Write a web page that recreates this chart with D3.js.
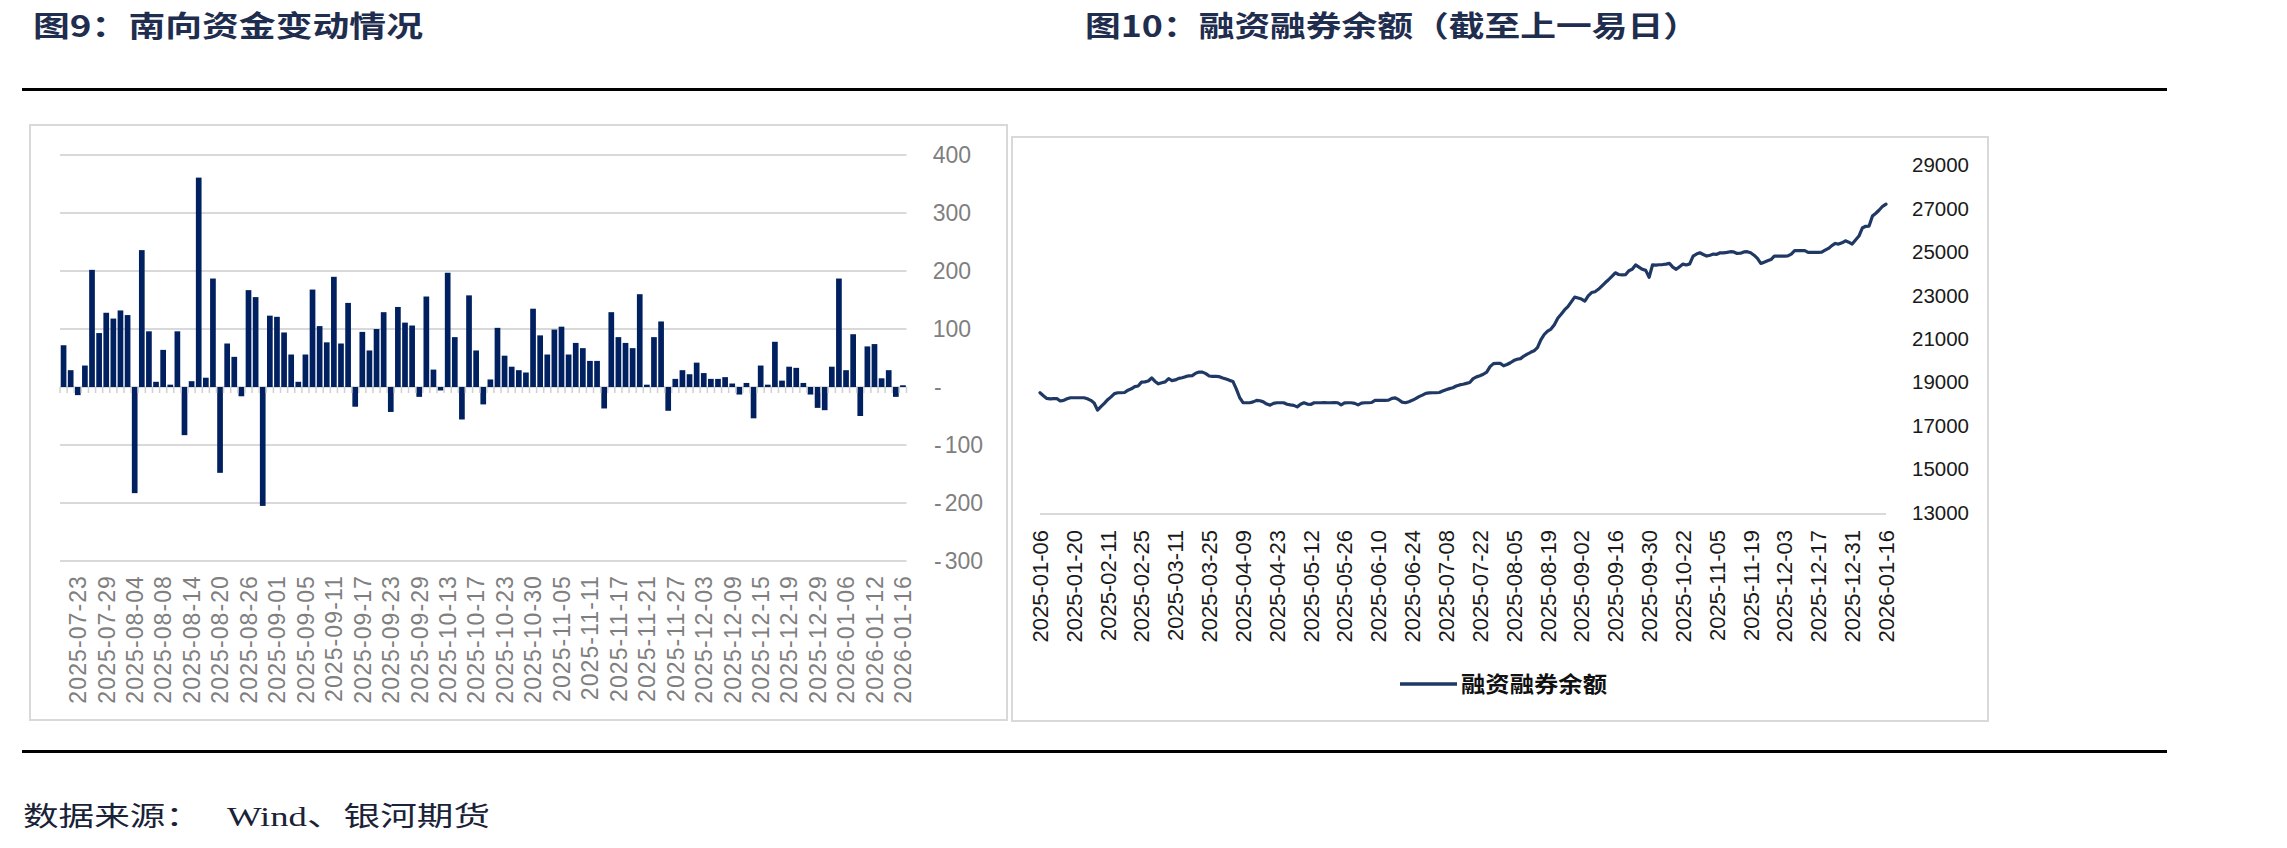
<!DOCTYPE html>
<html><head><meta charset="utf-8">
<script src="https://cdn.jsdelivr.net/npm/d3@7/dist/d3.min.js"></script>
<style>html,body{margin:0;padding:0;background:#fff;} svg{display:block}</style>
</head><body>
<svg id="c" width="2287" height="848"></svg>
<script>
// ---------- Data: 南向资金变动 (亿港元) ----------
const flowDates = [
"2025-07-21","2025-07-22","2025-07-23","2025-07-24","2025-07-25","2025-07-28","2025-07-29","2025-07-30","2025-07-31","2025-08-01",
"2025-08-04","2025-08-05","2025-08-06","2025-08-07","2025-08-08","2025-08-11","2025-08-12","2025-08-13","2025-08-14","2025-08-15",
"2025-08-18","2025-08-19","2025-08-20","2025-08-21","2025-08-22","2025-08-25","2025-08-26","2025-08-27","2025-08-28","2025-08-29",
"2025-09-01","2025-09-02","2025-09-03","2025-09-04","2025-09-05","2025-09-08","2025-09-09","2025-09-10","2025-09-11","2025-09-12",
"2025-09-15","2025-09-16","2025-09-17","2025-09-18","2025-09-19","2025-09-22","2025-09-23","2025-09-24","2025-09-25","2025-09-26",
"2025-09-29","2025-09-30","2025-10-09","2025-10-10","2025-10-13","2025-10-14","2025-10-15","2025-10-16","2025-10-17","2025-10-20",
"2025-10-21","2025-10-22","2025-10-23","2025-10-24","2025-10-27","2025-10-28","2025-10-30","2025-10-31","2025-11-03","2025-11-04",
"2025-11-05","2025-11-06","2025-11-07","2025-11-10","2025-11-11","2025-11-12","2025-11-13","2025-11-14","2025-11-17","2025-11-18",
"2025-11-19","2025-11-20","2025-11-21","2025-11-24","2025-11-25","2025-11-26","2025-11-27","2025-11-28","2025-12-01","2025-12-02",
"2025-12-03","2025-12-04","2025-12-05","2025-12-08","2025-12-09","2025-12-10","2025-12-11","2025-12-12","2025-12-15","2025-12-16",
"2025-12-17","2025-12-18","2025-12-19","2025-12-22","2025-12-23","2025-12-24","2025-12-29","2025-12-30","2026-01-02","2026-01-05",
"2026-01-06","2026-01-07","2026-01-08","2026-01-09","2026-01-12","2026-01-13","2026-01-14","2026-01-15","2026-01-16"];
const flowValues = [
72,29,-14,37,202,93,128,118,132,124,
-183,236,96,9,64,4,96,-83,10,361,
16,187,-148,75,52,-16,167,155,-205,123,
121,94,56,9,56,168,105,77,190,75,
145,-34,95,63,100,129,-43,138,111,106,
-17,156,30,-6,197,86,-56,158,63,-30,
13,102,54,35,29,25,135,89,56,99,
104,56,76,67,45,45,-37,129,86,76,
67,160,4,86,113,-41,14,29,22,42,
24,14,14,17,6,-13,7,-54,37,4,
78,11,35,33,7,-13,-36,-40,35,187,
29,91,-50,70,74,15,29,-17,3];
const flowYTicks = [400,300,200,100,0,-100,-200,-300];
const flowLabelEvery = 4, flowLabelStart = 2;

// ---------- Data: 融资融券余额 (亿元) ----------
const marginTickLabels = ["2025-01-06","2025-01-20","2025-02-11","2025-02-25","2025-03-11","2025-03-25","2025-04-09","2025-04-23",
"2025-05-12","2025-05-26","2025-06-10","2025-06-24","2025-07-08","2025-07-22","2025-08-05","2025-08-19","2025-09-02","2025-09-16",
"2025-09-30","2025-10-22","2025-11-05","2025-11-19","2025-12-03","2025-12-17","2025-12-31","2026-01-16"];
const marginLabelEvery = 10;
const marginValues = [
18520,18380,18260,18240,18250,18250,18140,18170,18240,18290,
18290,18290,18290,18290,18240,18170,18050,17720,17880,18030,
18200,18330,18480,18520,18520,18530,18640,18700,18800,18830,
19010,19020,19060,19200,19040,18930,18980,19020,19170,19080,
19110,19180,19210,19260,19300,19310,19420,19470,19470,19400,
19290,19270,19270,19260,19200,19150,19090,19040,18700,18300,
18060,18060,18060,18100,18170,18150,18100,18000,17950,18030,
18060,18060,18060,17990,17960,17940,17870,17990,18060,18000,
17980,18060,18060,18060,18070,18060,18060,18070,18060,17960,
18050,18060,18060,18030,17960,18040,18060,18060,18070,18170,
18170,18170,18170,18180,18260,18280,18200,18090,18060,18110,
18170,18250,18340,18410,18490,18510,18520,18520,18530,18600,
18660,18710,18750,18830,18880,18910,18950,18990,19170,19250,
19300,19370,19470,19720,19860,19870,19870,19760,19820,19900,
20000,20060,20090,20210,20300,20380,20450,20600,20950,21200,
21360,21450,21650,21950,22130,22330,22480,22700,22920,22880,
22830,22740,22980,23130,23170,23280,23430,23580,23720,23880,
24040,23960,23940,23950,24130,24200,24400,24300,24200,24150,
23830,24400,24390,24410,24420,24440,24470,24300,24200,24320,
24440,24400,24450,24810,24900,24960,24880,24810,24850,24900,
24890,24960,24960,24980,25010,25000,24930,24940,25000,25010,
24960,24850,24700,24470,24530,24590,24650,24810,24810,24810,
24810,24820,24900,25060,25060,25060,25060,24980,24980,24980,
24980,24990,25080,25160,25290,25390,25360,25420,25510,25450,
25360,25550,25730,26100,26180,26190,26650,26780,26930,27100,27200];
const marginYTicks = [29000,27000,25000,23000,21000,19000,17000,15000,13000];
const marginSeriesName = "融资融券余额";

const title1 = "图9：南向资金变动情况";
const title2 = "图10：融资融券余额（截至上一易日）";
const sourceLabel = "数据来源：";
const sourceText = "Wind、银河期货";

// ---------- Drawing ----------
const svg = d3.select("#c");
const CJK = "'Noto Sans CJK SC','Noto Sans CJK TC',sans-serif";
const SANS = "'Liberation Sans',Arial,sans-serif";
const navy = "#1f2d4e";

svg.append("rect").attr("width",2287).attr("height",848).attr("fill","#fff");

// titles
svg.append("text").attr("x",33).attr("y",37).text(title1)
  .attr("font-family",CJK).attr("font-weight","bold").attr("font-size",29)
  .attr("fill",navy).attr("textLength",390).attr("lengthAdjust","spacingAndGlyphs");
svg.append("text").attr("x",1085).attr("y",37).text(title2)
  .attr("font-family",CJK).attr("font-weight","bold").attr("font-size",29)
  .attr("fill",navy).attr("textLength",614).attr("lengthAdjust","spacingAndGlyphs");

// rules
svg.append("line").attr("x1",22).attr("x2",2167).attr("y1",89.5).attr("y2",89.5).attr("stroke","#000").attr("stroke-width",3);
svg.append("line").attr("x1",22).attr("x2",2167).attr("y1",751.5).attr("y2",751.5).attr("stroke","#000").attr("stroke-width",3);

// source
svg.append("text").attr("x",23).attr("y",826).text(sourceLabel)
  .attr("font-family","'Liberation Serif',"+CJK).attr("font-size",27).attr("fill","#1a2238")
  .attr("textLength",178).attr("lengthAdjust","spacingAndGlyphs");
svg.append("text").attr("x",227).attr("y",826).text(sourceText)
  .attr("font-family","'Liberation Serif',"+CJK).attr("font-size",27).attr("fill","#1a2238")
  .attr("textLength",263).attr("lengthAdjust","spacingAndGlyphs");

// frames
svg.append("rect").attr("x",30).attr("y",125).attr("width",977).attr("height",595)
  .attr("fill","none").attr("stroke","#d9d9d9").attr("stroke-width",2);
svg.append("rect").attr("x",1012).attr("y",137).attr("width",976).attr("height",584)
  .attr("fill","none").attr("stroke","#d9d9d9").attr("stroke-width",2);

// ===== Left chart: bars =====
const L = svg.append("g");
const xL = d3.scaleBand().domain(flowDates).range([60,906.5]).paddingInner(0.2).paddingOuter(0.1);
const yL = d3.scaleLinear().domain([-300,400]).range([561,155]);
const gray = "#7f7f7f";

L.selectAll("line.grid").data(flowYTicks).join("line")
  .attr("x1",60).attr("x2",906.5).attr("y1",d=>yL(d)).attr("y2",d=>yL(d))
  .attr("stroke","#d9d9d9").attr("stroke-width",2);

L.selectAll("rect.bar").data(flowValues).join("rect")
  .attr("x",(d,i)=>xL(flowDates[i])).attr("width",xL.bandwidth())
  .attr("y",d=>Math.min(yL(d),yL(0))).attr("height",d=>Math.abs(yL(d)-yL(0)))
  .attr("fill","#002060");

// category boundary ticks
const step = xL.step();
L.selectAll("line.tk").data(d3.range(flowDates.length+1)).join("line")
  .attr("x1",i=>60+i*step).attr("x2",i=>60+i*step)
  .attr("y1",yL(0)).attr("y2",yL(0)+6).attr("stroke","#d0d0d0").attr("stroke-width",1.5);

// y labels (accounting format)
flowYTicks.forEach(v=>{
  const y = yL(v);
  if (v>0) {
    L.append("text").attr("x",971).attr("y",y).attr("dy","0.35em").attr("text-anchor","end")
      .attr("font-family",SANS).attr("font-size",23).attr("fill",gray).text(d3.format("d")(v));
  } else if (v===0) {
    L.append("text").attr("x",934).attr("y",y).attr("dy","0.35em")
      .attr("font-family",SANS).attr("font-size",23).attr("fill",gray).text("-");
  } else {
    L.append("text").attr("x",934).attr("y",y).attr("dy","0.35em")
      .attr("font-family",SANS).attr("font-size",23).attr("fill",gray).text("-");
    L.append("text").attr("x",983).attr("y",y).attr("dy","0.35em").attr("text-anchor","end")
      .attr("font-family",SANS).attr("font-size",23).attr("fill",gray).text(d3.format("d")(-v));
  }
});

// x labels
const flowLabelIdx = d3.range(flowLabelStart, flowDates.length, flowLabelEvery);
L.selectAll("text.xl").data(flowLabelIdx).join("text")
  .attr("transform",i=>`translate(${xL(flowDates[i])+xL.bandwidth()/2},575) rotate(-90)`)
  .attr("text-anchor","end").attr("dy","0.36em")
  .attr("font-family",SANS).attr("font-size",23).attr("letter-spacing","1.1px")
  .attr("fill",gray).text(i=>flowDates[i]);

// ===== Right chart: line =====
const R = svg.append("g");
const xR = d3.scaleLinear().domain([0,marginValues.length-1]).range([1040,1886]);
const yR = d3.scaleLinear().domain([13000,29000]).range([512.7,165]);

R.append("line").attr("x1",1040).attr("x2",1886).attr("y1",514).attr("y2",514)
  .attr("stroke","#d9d9d9").attr("stroke-width",2);

R.append("path").datum(marginValues)
  .attr("d",d3.line().x((d,i)=>xR(i)).y(d=>yR(d)))
  .attr("fill","none").attr("stroke","#1f3864").attr("stroke-width",3.2)
  .attr("stroke-linejoin","round").attr("stroke-linecap","round");

R.selectAll("text.yl").data(marginYTicks).join("text")
  .attr("x",1912).attr("y",d=>yR(d)).attr("dy","0.35em")
  .attr("font-family",SANS).attr("font-size",20.5).attr("fill","#1a1a1a").text(d=>d3.format("d")(d));

R.selectAll("text.xl").data(marginTickLabels).join("text")
  .attr("transform",(d,k)=>`translate(${xR(k*marginLabelEvery)},530) rotate(-90)`)
  .attr("text-anchor","end").attr("dy","0.36em")
  .attr("font-family",SANS).attr("font-size",22).attr("fill","#1a1a1a").text(d=>d);

// legend
R.append("line").attr("x1",1400).attr("x2",1457).attr("y1",684).attr("y2",684)
  .attr("stroke","#1f3864").attr("stroke-width",3.5);
R.append("text").attr("x",1461).attr("y",684).attr("dy","0.36em").text(marginSeriesName)
  .attr("font-family",CJK).attr("font-weight","bold").attr("font-size",22).attr("fill","#111")
  .attr("textLength",146).attr("lengthAdjust","spacingAndGlyphs");
</script>
</body></html>
